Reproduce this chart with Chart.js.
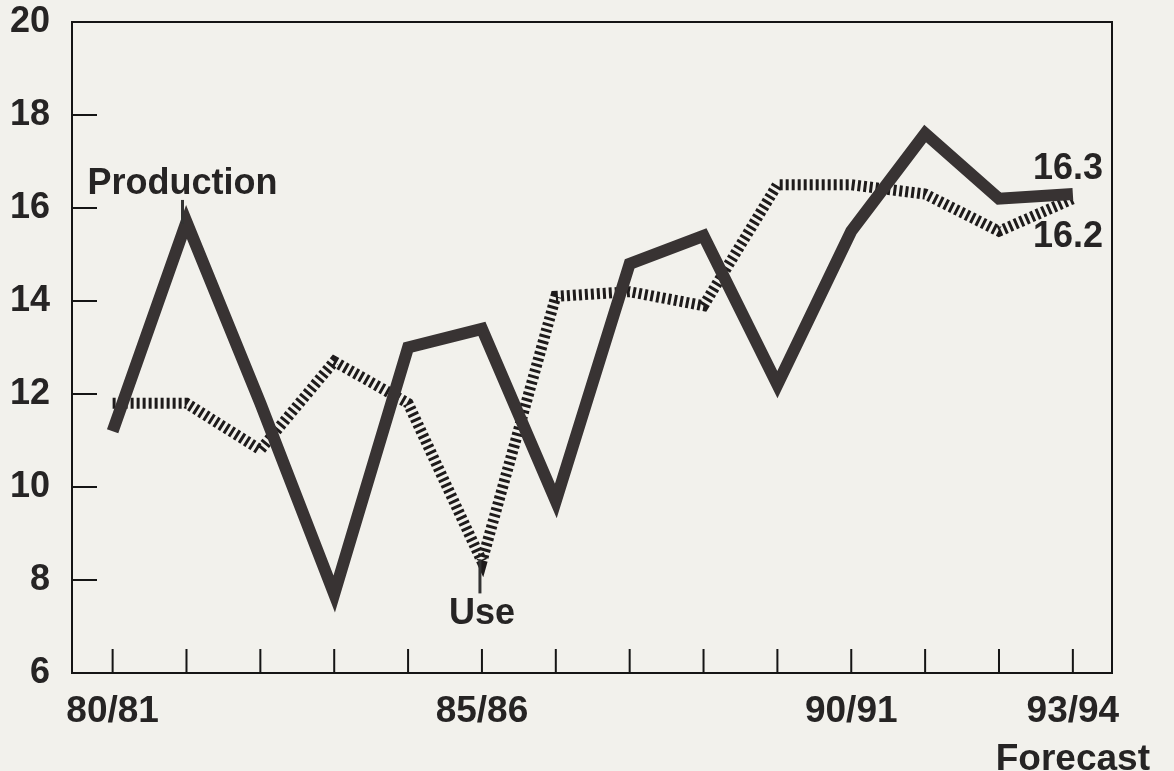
<!DOCTYPE html>
<html>
<head>
<meta charset="utf-8">
<script src="https://cdn.jsdelivr.net/npm/chart.js@4.4.0/dist/chart.umd.min.js"></script>
<style>
  html, body { margin: 0; padding: 0; background: #f2f1ec; }
  #wrap { width: 1174px; height: 771px; position: relative; }
</style>
</head>
<body>
<div id="wrap"><canvas id="grafico" width="1174" height="771"></canvas></div>
<script>
// marketing years
var anos = ['80/81','81/82','82/83','83/84','84/85','85/86','86/87','87/88','88/89','89/90','90/91','91/92','92/93','93/94']
var anosmostrados = ['80/81','85/86','90/91','93/94']
var producao = [11.2, 15.7, 11.8, 7.7, 13.0, 13.4, 9.7, 14.8, 15.4, 12.2, 15.5, 17.6, 16.2, 16.3]
var uso = [11.8, 11.8, 10.8, 12.7, 11.8, 8.4, 14.1, 14.2, 13.9, 16.5, 16.5, 16.3, 15.5, 16.2]
var yticks = [6, 8, 10, 12, 14, 16, 18, 20]

var tinta = '#262424'

// frame, inside ticks and the text labels on the lines
var extras = {
    id: 'extras',
    afterDatasetsDraw(chart) {
        var ctx = chart.ctx
        var a = chart.chartArea
        var sx = chart.scales.x
        var sy = chart.scales.y
        ctx.save()
        ctx.strokeStyle = '#151515'
        ctx.lineWidth = 2
        ctx.strokeRect(a.left, a.top, a.right - a.left, a.bottom - a.top)

        ctx.lineWidth = 2
        ctx.beginPath()
        anos.forEach(function(ano, i) {
            var px = sx.getPixelForValue(i)
            ctx.moveTo(px, a.bottom)
            ctx.lineTo(px, a.bottom - 24)
        })
        yticks.slice(1, -1).forEach(function(v) {
            var py = sy.getPixelForValue(v)
            ctx.moveTo(a.left, py)
            ctx.lineTo(a.left + 25, py)
        })
        ctx.stroke()

        // Production label with pointer
        var p1 = chart.getDatasetMeta(0).data[1]
        ctx.lineWidth = 3
        ctx.strokeStyle = '#333'
        ctx.beginPath()
        ctx.moveTo(p1.x - 4, p1.y - 22)
        ctx.lineTo(p1.x - 4, p1.y + 2)
        ctx.stroke()
        ctx.fillStyle = tinta
        ctx.font = 'bold 36px "Liberation Sans", Arial, sans-serif'
        ctx.textAlign = 'center'
        ctx.textBaseline = 'alphabetic'
        ctx.fillText('Production', p1.x - 4, p1.y - 28)

        // Use label with pointer
        var u5 = chart.getDatasetMeta(1).data[5]
        ctx.beginPath()
        ctx.moveTo(u5.x - 2, u5.y - 2)
        ctx.lineTo(u5.x - 2, u5.y + 32)
        ctx.stroke()
        ctx.fillText('Use', u5.x, u5.y + 63)

        // end values
        var pEnd = chart.getDatasetMeta(0).data[anos.length - 1]
        var uEnd = chart.getDatasetMeta(1).data[anos.length - 1]
        ctx.textAlign = 'right'
        ctx.fillText(producao[producao.length - 1].toFixed(1), 1103, pEnd.y - 15)
        ctx.fillText(uso[uso.length - 1].toFixed(1), 1103, uEnd.y + 48)
        ctx.restore()
    }
}

var ctx = document.getElementById('grafico').getContext('2d')
var grafico = new Chart(ctx, {
    type: 'line',
    data: {
        datasets: [
            {
                label: 'Production',
                data: producao.map((v, i) => ({ x: i, y: v })),
                borderColor: '#383333',
                borderWidth: 12,
                borderJoinStyle: 'miter',
                borderCapStyle: 'butt',
                pointRadius: 0,
                tension: 0,
                order: 1
            },
            {
                label: 'Use',
                data: uso.map((v, i) => ({ x: i, y: v })),
                borderColor: '#1e1b1b',
                borderWidth: 11,
                borderDash: [3, 3],
                borderJoinStyle: 'miter',
                borderCapStyle: 'butt',
                pointRadius: 0,
                tension: 0,
                order: 2
            }
        ]
    },
    options: {
        responsive: false,
        animation: false,
        layout: {
            padding: { left: 0, right: 62, top: 22, bottom: 0 }
        },
        plugins: {
            legend: { display: false },
            tooltip: { enabled: false }
        },
        scales: {
            x: {
                type: 'linear',
                min: -0.55,
                max: 13.53,
                afterBuildTicks: function(scale) {
                    scale.ticks = anos.map((a, i) => ({ value: i }))
                },
                afterFit: function(scale) {
                    scale.height = 98
                    scale.paddingLeft = 0
                    scale.paddingRight = 0
                },
                grid: { display: false, drawTicks: false },
                border: { display: false },
                ticks: {
                    autoSkip: false,
                    maxRotation: 0,
                    padding: 14,
                    color: tinta,
                    font: { family: '"Liberation Sans", Arial, sans-serif', size: 37, weight: 'bold', lineHeight: 1.32 },
                    callback: function(value) {
                        var nome = anos[value]
                        if (anosmostrados.indexOf(nome) < 0) return ''
                        if (value == anos.length - 1) return [nome, 'Forecast']
                        return nome
                    }
                }
            },
            y: {
                min: 6,
                max: 20,
                afterBuildTicks: function(scale) {
                    scale.ticks = yticks.map(v => ({ value: v }))
                },
                afterFit: function(scale) {
                    scale.width = 72
                    scale.paddingTop = 0
                    scale.paddingBottom = 0
                },
                grid: { display: false, drawTicks: false },
                border: { display: false },
                ticks: {
                    padding: 22,
                    color: tinta,
                    font: { family: '"Liberation Sans", Arial, sans-serif', size: 36, weight: 'bold' }
                }
            }
        }
    },
    plugins: [extras]
})
</script>
</body>
</html>
